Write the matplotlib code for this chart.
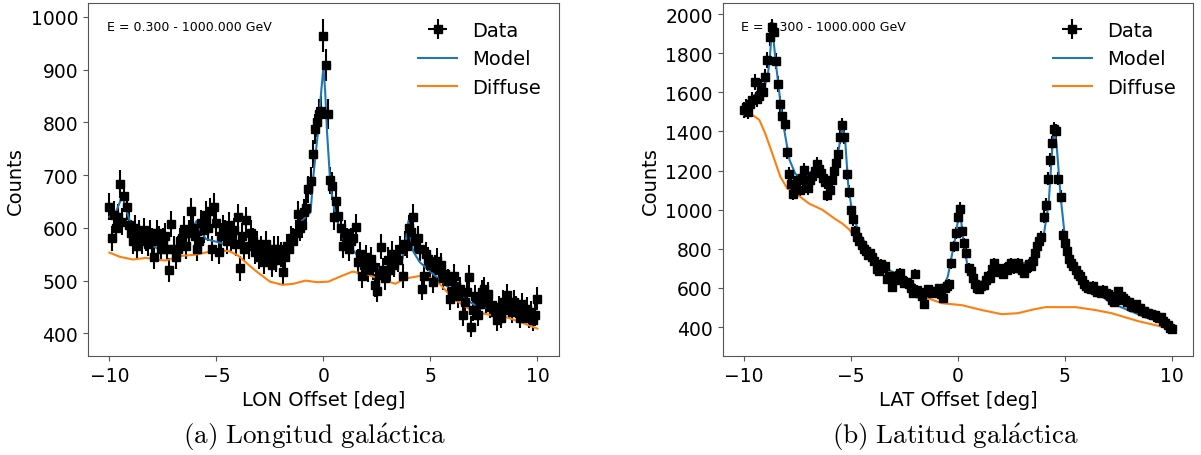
import numpy as np
import matplotlib
matplotlib.use("Agg")
import matplotlib.pyplot as plt

plt.rcParams["mathtext.fontset"] = "cm"

# bin centres of the profiles (deg)
offsets = np.round(np.arange(-10, 10.01, 0.1), 1)

# Longitude profile counts
lon_counts = [
    640, 580, 625, 600, 620, 683, 612, 660, 640, 605, 590,
    575, 600, 565, 590, 575, 595, 580, 570, 590, 575,
    545, 590, 580, 560, 575, 585, 560, 520, 607, 560,
    545, 560, 575, 580, 598, 565, 590, 632, 600, 585,
    560, 575, 610, 595, 625, 600, 632, 560, 640, 610,
    555, 585, 600, 590, 575, 605, 580, 595, 570, 620,
    523, 585, 560, 615, 565, 590, 575, 555, 570, 545,
    560, 535, 570, 550, 545, 530, 560, 540, 560, 550,
    517, 545, 565, 560, 580, 575, 590, 626, 600, 605,
    630, 638, 673, 689, 740, 787, 800, 815, 821, 964,
    908, 815, 690, 679, 620, 650, 623, 600, 566, 590,
    575, 560, 575, 580, 602, 536, 550, 509, 530, 545,
    520, 541, 525, 491, 481, 510, 564, 520, 504, 540,
    520, 551, 530, 545, 540, 560, 509, 570, 566, 600,
    592, 620, 575, 580, 560, 485, 509, 550, 541, 530,
    498, 525, 538, 520, 530, 505, 513, 500, 466, 480,
    509, 490, 470, 485, 434, 460, 479, 507, 413, 445,
    470, 434, 455, 479, 485, 460, 475, 450, 453, 440,
    425, 450, 430, 460, 445, 472, 455, 440, 460, 450,
    445, 430, 455, 440, 447, 430, 440, 425, 435, 466,
]

lon_model_x = [-10, -9.7, -9.5, -9.4, -9.25, -8.9, -8.4, -7.8, -7.3, -6.8,
               -6.3, -6.05, -5.93, -5.75, -5.5, -4.67, -3.74, -3.45, -3.27,
               -3.1, -2.94, -2.48, -2.2, -1.92, -1.75, -1.59, -1.3, -1.07,
               -0.8, -0.6, -0.47, -0.23, -0.1, 0.0, 0.08, 0.17, 0.33, 0.56,
               0.93, 1.73, 2.5, 2.99, 3.4, 3.69, 3.85, 3.97, 4.08, 4.2, 4.5,
               5.0, 6.07, 7.34, 7.94, 8.3, 8.5, 8.75, 9.2, 10]
lon_model_y = [621, 630, 650, 664, 640, 592, 575, 562, 555, 562,
               585, 605, 613, 595, 579, 570, 564, 566, 573,
               560, 547, 530, 532, 541, 560, 570, 585, 611,
               622, 630, 698, 792, 860, 905, 860, 781, 679, 623,
               579, 541, 525, 517, 525, 541, 575, 613, 580, 555, 535,
               517, 479, 447, 451, 458, 462, 450, 441, 436]

lon_diffuse_x = [-10, -9.5, -8.9, -8.3, -7.4, -6.6, -6.0, -5.05, -4.4, -3.97,
                 -3.64, -3.18, -2.5, -1.92, -1.4, -0.84, -0.3, 0.23, 0.8,
                 1.36, 2.0, 2.57, 3.36, 3.83, 4.53, 5.0, 5.33, 6.07, 7.0,
                 7.94, 8.6, 9.3, 10]
lon_diffuse_y = [553, 545, 540, 543, 538, 547, 549, 557, 556, 547,
                 535, 519, 498, 492, 494, 500, 497, 498, 508,
                 517, 512, 504, 494, 504, 509, 505, 498, 466, 441,
                 434, 430, 420, 409]

# Latitude profile counts
lat_counts = [
    1510, 1525, 1500, 1540, 1560, 1652, 1566, 1580, 1627, 1600, 1678,
    1764, 1881, 1932, 1907, 1760, 1642, 1540, 1480, 1438, 1296,
    1184, 1133, 1082, 1120, 1150, 1100, 1160, 1204, 1130, 1110,
    1150, 1170, 1200, 1235, 1210, 1190, 1160, 1140, 1077, 1100,
    1150, 1200, 1240, 1286, 1372, 1433, 1372, 1184, 1092, 1000,
    950, 889, 860, 840, 822, 800, 790, 771, 780, 760,
    740, 695, 685, 720, 700, 711, 644, 660, 604, 640,
    660, 650, 675, 640, 625, 630, 619, 600, 573, 670,
    590, 575, 560, 517, 580, 593, 585, 575, 580, 585,
    598, 570, 548, 600, 610, 619, 726, 812, 880, 965,
    1006, 889, 828, 777, 700, 685, 650, 620, 600, 593,
    609, 615, 640, 660, 650, 695, 726, 700, 680, 690,
    670, 700, 690, 711, 726, 700, 720, 726, 700, 690,
    675, 700, 720, 710, 740, 780, 812, 840, 863, 965,
    1026, 1158, 1255, 1340, 1413, 1400, 1158, 1067, 873, 828,
    790, 746, 730, 711, 690, 670, 660, 640, 620, 609,
    600, 593, 610, 590, 580, 585, 573, 590, 573, 568,
    560, 540, 530, 540, 583, 560, 548, 540, 530, 530,
    510, 505, 517, 497, 497, 480, 480, 471, 470, 466,
    460, 460, 450, 445, 450, 430, 420, 410, 395, 390,
]

lat_model_x = [-10, -9.45, -9.12, -8.9, -8.8, -8.72, -8.67, -8.6, -8.5, -8.43,
               -8.2, -7.87, -7.6, -7.17, -6.67, -6.42, -6.1, -5.78, -5.55,
               -5.4, -5.27, -5.13, -4.94, -4.6, -4.14, -3.54, -2.93, -2.0,
               -1.2, -0.75, -0.47, -0.14, 0.09, 0.23, 0.47, 0.79, 1.26, 1.72,
               2.33, 2.8, 3.45, 3.7, 4.0, 4.24, 4.4, 4.5, 4.62, 4.8, 5.03,
               5.5, 6.25, 7.18, 8.3, 8.9, 9.04, 9.2, 10]
lat_model_y = [1535, 1591, 1606, 1678, 1760, 1880, 1925, 1850, 1740, 1678,
               1459, 1255, 1184, 1153, 1219, 1169, 1123, 1204, 1321,
               1438, 1357, 1133, 980, 878, 797, 711, 675, 598,
               573, 583, 660, 848, 1006, 863, 695, 629, 634, 660,
               700, 726, 731, 761, 863, 1031, 1300, 1420, 1321, 1067, 828,
               711, 593, 522, 471, 445, 448, 435, 405]

lat_diffuse_x = [-10, -9.6, -9.28, -9.0, -8.67, -8.3, -7.97, -7.6, -6.95, -6.34,
                 -5.73, -5.4, -5.08, -4.6, -4.14, -3.56, -2.93, -2.05, -1.67,
                 -0.75, 0.19, 1.12, 2.05, 2.8, 3.6, 4.1, 5.5, 6.43, 7.18,
                 8.44, 10]
lat_diffuse_y = [1484, 1484, 1459, 1388, 1286, 1169, 1108, 1085, 1031, 1000,
                 952, 929, 899, 828, 777, 718, 649, 620, 558,
                 522, 512, 487, 466, 471, 492, 502, 502, 487, 471,
                 430, 390]


def draw_profile(ax, counts, mx, my, dx, dy, xlabel, ylim):
    counts = np.array(counts)
    data = ax.errorbar(offsets, counts, yerr=np.sqrt(counts), xerr=0.05,
                       fmt="s", color="k", ms=6, elinewidth=1.5, label="Data")
    model, = ax.plot(mx, my, color="tab:blue", lw=1.5, label="Model")
    diffuse, = ax.plot(dx, dy, color="tab:orange", lw=1.5, label="Diffuse")
    ax.set_xlim(-11, 11)
    ax.set_ylim(*ylim)
    ax.set_xlabel(xlabel, fontsize=14)
    ax.set_ylabel("Counts", fontsize=14)
    ax.tick_params(labelsize=13.5, color="#555555")
    for spine in ax.spines.values():
        spine.set_color("#555555")
    ax.text(0.04, 0.933, "E = 0.300 - 1000.000 GeV", transform=ax.transAxes,
            fontsize=9, va="center")
    ax.legend([data, model, diffuse], ["Data", "Model", "Diffuse"],
              loc="upper right", frameon=False, fontsize=14)


fig = plt.figure(figsize=(12.01, 4.56), dpi=100)
ax1 = fig.add_axes([0.0733, 0.217, 0.392, 0.774])
ax2 = fig.add_axes([0.6016, 0.217, 0.392, 0.774])

draw_profile(ax1, lon_counts, lon_model_x, lon_model_y,
             lon_diffuse_x, lon_diffuse_y, "LON Offset [deg]", (357, 1026))
draw_profile(ax2, lat_counts, lat_model_x, lat_model_y,
             lat_diffuse_x, lat_diffuse_y, "LAT Offset [deg]", (252, 2056))
ax1.set_yticks([400, 500, 600, 700, 800, 900, 1000])
ax2.set_yticks(range(400, 2001, 200))

fig.text(0.262, 0.042, r"$\mathrm{(a)\ Longitud\ gal\acute{a}ctica}$",
         fontsize=19.5, ha="center", va="center")
fig.text(0.795, 0.042, r"$\mathrm{(b)\ Latitud\ gal\acute{a}ctica}$",
         fontsize=19.5, ha="center", va="center")

fig.savefig("out.png", dpi=100)
plt.close(fig)
